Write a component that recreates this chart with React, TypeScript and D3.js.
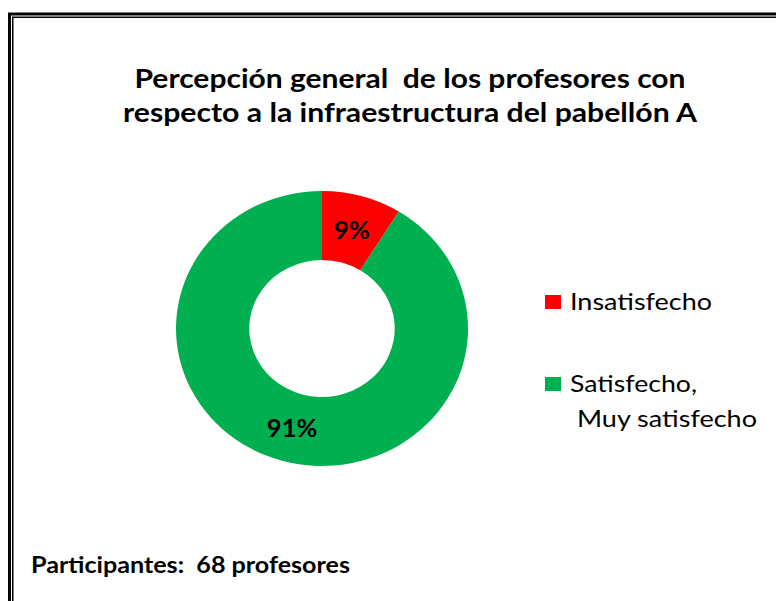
import React from "react";
import * as d3 from "d3";

const categories = ["Insatisfecho", "Satisfecho, Muy satisfecho"];
const counts = [6, 62];
const pctLabels = ["9%", "91%"];
const colors = ["#FF0000", "#00B050"];
const titleLines = [
  "Percepción general  de los profesores con",
  "respecto a la infraestructura del pabellón A",
];
const legendLines = [["Insatisfecho"], ["Satisfecho,", "Muy satisfecho"]];
const footer = "Participantes:  68 profesores";

const W = 776;
const H = 601;

export default function App() {
  const cx = 322;
  const cy = 328.5;
  const rOuter = 137.5;
  const rInner = 68.5;
  const sx = 146 / 137.5;

  const pie = d3
    .pie<number>()
    .sort(null)
    .value((d) => d)
    .startAngle(0)
    .endAngle(2 * Math.PI);
  const arcs = pie(counts);
  const arc = d3.arc<d3.PieArcDatum<number>>().innerRadius(rInner).outerRadius(rOuter);

  const font = "Lato, 'Open Sans', sans-serif";
  const legendY = [295, 377];
  const legendLen = [[142], [127, 180]];
  const legendX = [[570], [570, 577]];

  return (
    <svg
      width={W}
      height={H}
      style={{ position: "absolute", left: 0, top: 0, background: "#fff" }}
      fontFamily={font}
    >
      <rect x={0} y={0} width={W} height={H} fill="#fff" />
      {/* double frame */}
      <rect x={9.5} y={14} width={W + 40} height={H + 40} fill="none" stroke="#000" strokeWidth={3} />
      <rect x={12.75} y={17.25} width={W + 40} height={H + 40} fill="none" stroke="#000" strokeWidth={1.5} />

      {titleLines.map((t, i) => (
        <text
          key={i}
          x={410}
          y={88 + i * 34}
          textAnchor="middle"
          fontWeight="bold"
          fontSize={26}
          textLength={i === 0 ? 551 : 574}
          lengthAdjust="spacingAndGlyphs"
          fill="#000"
          style={{ whiteSpace: "pre" }}
        >
          {t}
        </text>
      ))}

      <g transform={`translate(${cx},${cy}) scale(${sx},1)`}>
        {arcs.map((a, i) => (
          <path key={i} d={arc(a) || ""} fill={colors[i]} />
        ))}
        {arcs.map((a, i) => {
          const [x, y] = arc.centroid(a);
          return (
            <text
              key={"l" + i}
              x={x}
              y={y}
              dy="0.4em"
              textAnchor="middle"
              fontWeight="bold"
              fontSize={24}
              fill="#000"
            >
              {pctLabels[i]}
            </text>
          );
        })}
      </g>

      {categories.map((c, i) => (
        <g key={c}>
          <rect x={545} y={legendY[i]} width={16} height={14} fill={colors[i]} />
          {legendLines[i].map((ln, j) => (
            <text
              key={j}
              x={legendX[i][j]}
              y={legendY[i] + 14.5 + j * 35}
              fontSize={24}
              textLength={legendLen[i][j]}
              lengthAdjust="spacingAndGlyphs"
              fill="#000"
            >
              {ln}
            </text>
          ))}
        </g>
      ))}

      <text
        x={31}
        y={573}
        fontWeight="bold"
        fontSize={23}
        textLength={319}
        lengthAdjust="spacingAndGlyphs"
        fill="#000"
        style={{ whiteSpace: "pre" }}
      >
        {footer}
      </text>
    </svg>
  );
}
